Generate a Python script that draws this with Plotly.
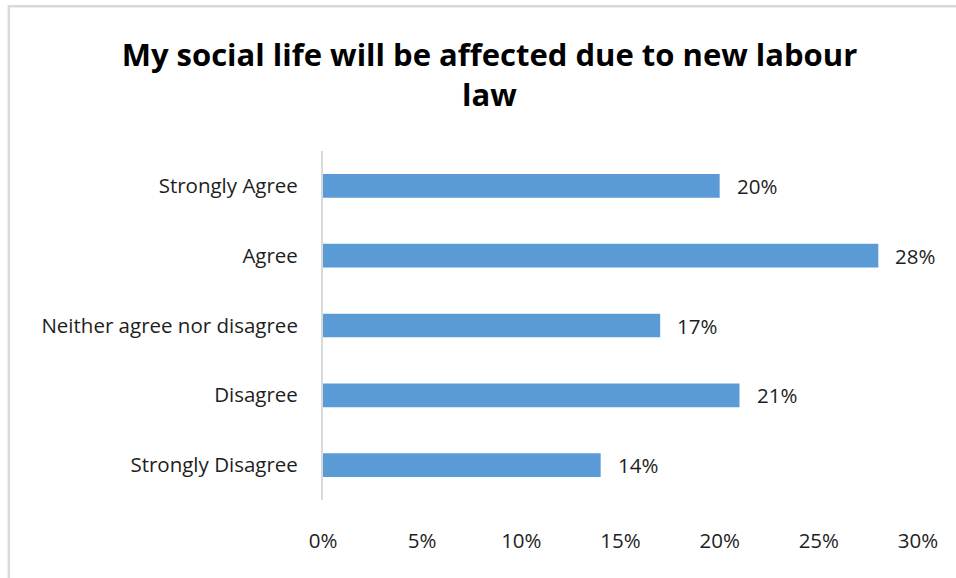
import plotly.graph_objects as go

categories = ["Strongly Agree", "Agree", "Neither agree nor disagree", "Disagree", "Strongly Disagree"]
shares = [20, 28, 17, 21, 14]
tick_vals = [0, 5, 10, 15, 20, 25, 30]
tick_text = ["0%", "5%", "10%", "15%", "20%", "25%", "30%"]

FONT = "'Open Sans', sans-serif"
TEXT = "#1e1e1e"
LABEL_SIZE = 20.5

fig = go.Figure(
    go.Bar(
        x=shares,
        y=categories,
        orientation="h",
        marker=dict(color="#5B9BD5", line=dict(width=0)),
        width=0.34,
        hoverinfo="skip",
    )
)

# value labels just right of each bar end
for cat, val in zip(categories, shares):
    fig.add_annotation(
        x=val, y=cat, text=f"{val}%", showarrow=False,
        xanchor="left", xshift=15, yshift=0,
        font=dict(family=FONT, size=LABEL_SIZE, color=TEXT),
    )

# chart frame
fig.add_shape(
    type="rect", xref="paper", yref="paper",
    x0=-0.528, x1=1.2, y0=-0.5, y1=1.415,
    line=dict(color="#d9d9d9", width=2.5),
    fillcolor="rgba(0,0,0,0)", layer="below",
)

fig.update_layout(
    width=956, height=578,
    margin=dict(l=323, r=38, t=151, b=78),
    paper_bgcolor="white", plot_bgcolor="white",
    showlegend=False,
    title=dict(
        text="<b>My social life will be affected due to new labour<br>law</b>",
        x=0.512, xanchor="center", y=0.886, yanchor="top",
        font=dict(family=FONT, size=31, color="#000"),
    ),
    xaxis=dict(
        range=[0, 30], tickvals=tick_vals, ticktext=tick_text,
        showgrid=False, zeroline=False, showline=False,
        ticks="", ticklabelstandoff=26,
        tickfont=dict(family=FONT, size=LABEL_SIZE, color=TEXT),
    ),
    yaxis=dict(
        categoryorder="array", categoryarray=categories[::-1],
        range=[-0.5, 4.5],
        showgrid=False, zeroline=False,
        showline=True, linecolor="#d9d9d9", linewidth=2,
        ticks="", ticklabelstandoff=19,
        tickfont=dict(family=FONT, size=LABEL_SIZE, color=TEXT),
    ),
)

fig.write_html("out.html")
